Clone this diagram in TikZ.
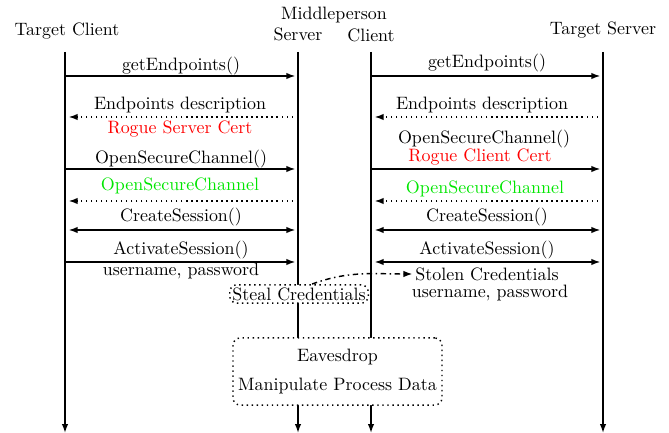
\documentclass[tikz,border=0pt]{standalone}
\usetikzlibrary{arrows.meta,calc}
\definecolor{certred}{RGB}{255,0,0}
\definecolor{chgreen}{RGB}{0,230,0}
\tikzset{
  tip/.tip={Latex[length=5pt,width=3.6pt]},
  life/.style={thick,-tip},
  msg/.style={thick,-tip,shorten >=1.5},
  reply/.style={thick,dotted,-tip,shorten >=1.5},
  both/.style={thick,tip-tip,shorten >=1.5,shorten <=1.5},
  lbl/.style={inner sep=0pt,anchor=center},
  head/.style={inner sep=0pt,anchor=center},
  attackbox/.style={draw,dotted,thick,rounded corners=4pt,fill=white,align=center},
}
\begin{document}
\begin{tikzpicture}[x=0.5575pt,y=-0.5575pt]
\useasboundingbox (0,0) rectangle (669,433);

% participants
\node[head] (htc) at (67,31) {Target Client};
\node[head] (hmp) at (334,15) {Middleperson};
\node[head] (hms) at (298,34) {Server};
\node[head] (hmc) at (371,35) {Client};
\node[head] (hts) at (603,30) {Target Server};

% lifeline ends
\coordinate (tcT) at (65,52);   \coordinate (tcB) at (65,433);
\coordinate (msT) at (298,52);  \coordinate (msB) at (298,433);
\coordinate (mcT) at (371,52);  \coordinate (mcB) at (371,433);
\coordinate (tsT) at (603,52);  \coordinate (tsB) at (603,433);

% message end points on each lifeline
\foreach \n/\y in {a/76,b/117,c/169,d/201,e/230,f/262}{
  \coordinate (tc\n) at (66,\y);
  \coordinate (ms\n) at (298,\y);
  \coordinate (mc\n) at (372,\y);
  \coordinate (ts\n) at (603,\y);
}

% lifelines
\draw[life] (tcT) -- (tcB);
\draw[life] (msT) -- (msB);
\draw[life] (mcT) -- (mcB);
\draw[life] (tsT) -- (tsB);

% target client <-> middleperson server
\draw[msg] (tca) -- (msa);
\node[lbl] (l1) at (181,66) {getEndpoints()};
\draw[reply] (msb) -- (tcb);
\node[lbl] (l2) at (180,105) {Endpoints description};
\node[lbl,text=certred] (l3) at (180,129) {Rogue Server Cert};
\draw[msg] (tcc) -- (msc);
\node[lbl] (l4) at (181,159) {OpenSecureChannel()};
\draw[reply] (msd) -- (tcd);
\node[lbl,text=chgreen] (l5) at (180,186) {OpenSecureChannel};
\draw[both] (tce) -- (mse);
\node[lbl] (l6) at (181,217) {CreateSession()};
\draw[msg] (tcf) -- (msf);
\node[lbl] (l7) at (181,250) {ActivateSession()};
\node[lbl] (l8) at (181,271) {username, password};

% middleperson client <-> target server
\draw[msg] (mca) -- (tsa);
\node[lbl] (r1) at (487,63) {getEndpoints()};
\draw[reply] (tsb) -- (mcb);
\node[lbl] (r2) at (482,105) {Endpoints description};
\draw[msg] (mcc) -- (tsc);
\node[lbl] (r3) at (484,139) {OpenSecureChannel()};
\node[lbl,text=certred] (r4) at (480,157) {Rogue Client Cert};
\draw[reply] (tsd) -- (mcd);
\node[lbl,text=chgreen] (r5) at (485,189) {OpenSecureChannel};
\draw[both] (mce) -- (tse);
\node[lbl] (r6) at (487,217) {CreateSession()};
\draw[both] (mcf) -- (tsf);
\node[lbl] (r7) at (487,250) {ActivateSession()};
\node[lbl] (r8) at (487,274) {Stolen Credentials};
\node[lbl] (r9) at (490,293) {username, password};

% attacker actions
\node[attackbox,inner sep=1.5pt] (steal) at (299,294) {Steal Credentials};
\node[attackbox,minimum width=116.5pt,minimum height=37.4pt,inner sep=2pt] (eaves) at (337.5,371.5)
  {Eavesdrop\\[4.2pt]Manipulate Process Data};

\draw[thick,dash dot,-tip] ($(steal.north)+(13,0)$) to[out=20,in=180] ([xshift=-1.5pt]r8.west);
\end{tikzpicture}
\end{document}
